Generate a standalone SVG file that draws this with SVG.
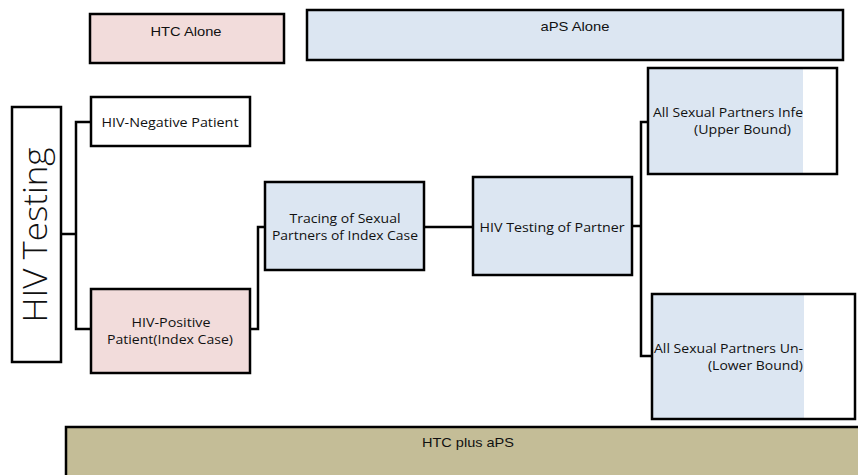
<svg xmlns="http://www.w3.org/2000/svg" width="858" height="475" viewBox="0 0 858 475">
<style>
.b{stroke:#000;stroke-width:2.5}
.pink{fill:#f2dcdb}
.blue{fill:#dce6f2}
.white{fill:#fff}
.tan{fill:#c4bd97}
.a{font-family:"Liberation Sans",Arial,sans-serif;font-size:13px;fill:#111}
.c{font-family:"Open Sans","Noto Sans",sans-serif;font-size:13px;fill:#111}
.m{text-anchor:middle}
.conn{fill:none;stroke:#000;stroke-width:2.5}
</style>
<rect width="858" height="475" fill="#fff"/>
<g id="htc-alone"><rect class="b pink" x="90" y="14" width="194" height="49"/><text class="a m" x="186" y="36" textLength="71" lengthAdjust="spacingAndGlyphs">HTC Alone</text></g>
<g id="aps-alone"><rect class="b blue" x="307" y="10" width="536" height="50"/><text class="a m" x="575" y="31" textLength="69" lengthAdjust="spacingAndGlyphs">aPS Alone</text></g>
<g id="hiv-testing"><rect class="b white" x="12" y="107" width="49" height="255"/><text transform="translate(47,235) rotate(-90)" style="font-family:'Open Sans','Noto Sans',sans-serif;font-weight:300;font-size:33px;fill:#111" text-anchor="middle" textLength="175" lengthAdjust="spacingAndGlyphs">HIV Testing</text></g>
<g id="hiv-negative"><rect class="b white" x="91" y="97" width="159" height="49"/><text class="c m" x="170" y="127" textLength="137" lengthAdjust="spacingAndGlyphs">HIV-Negative Patient</text></g>
<g id="hiv-positive"><rect class="b pink" x="91" y="289" width="159" height="84"/><text class="c m" x="171" y="327" textLength="79" lengthAdjust="spacingAndGlyphs">HIV-Positive</text><text class="c m" x="170" y="344" textLength="126" lengthAdjust="spacingAndGlyphs">Patient(Index Case)</text></g>
<g id="tracing"><rect class="b blue" x="265" y="182" width="159" height="88"/><text class="c m" x="345" y="223" textLength="111" lengthAdjust="spacingAndGlyphs">Tracing of Sexual</text><text class="c m" x="345" y="240" textLength="146" lengthAdjust="spacingAndGlyphs">Partners of Index Case</text></g>
<g id="testing-partner"><rect class="b blue" x="473" y="177" width="159" height="98"/><text class="c m" x="552" y="232" textLength="145" lengthAdjust="spacingAndGlyphs">HIV Testing of Partner</text></g>
<g id="upper"><rect class="white" x="648" y="68" width="189" height="106"/><rect class="blue" x="649" y="69" width="154" height="104"/><rect class="b" fill="none" x="648" y="68" width="189" height="106"/><text class="c" x="653" y="117" textLength="150" lengthAdjust="spacingAndGlyphs">All Sexual Partners Infe</text><text class="c" x="694" y="134" textLength="97" lengthAdjust="spacingAndGlyphs">(Upper Bound)</text></g>
<g id="lower"><rect class="white" x="652" y="294" width="203" height="125"/><rect class="blue" x="653" y="295" width="151" height="123"/><rect class="b" fill="none" x="652" y="294" width="203" height="125"/><text class="c" x="654" y="353" textLength="149" lengthAdjust="spacingAndGlyphs">All Sexual Partners Un-</text><text class="c" x="708" y="370" textLength="95" lengthAdjust="spacingAndGlyphs">(Lower Bound)</text></g>
<g id="htc-plus-aps"><rect class="b tan" x="66" y="427" width="800" height="60"/><text class="a m" x="468" y="447" textLength="92" lengthAdjust="spacingAndGlyphs">HTC plus aPS</text></g>
<g id="connectors">
<path class="conn" d="M61 234H76M91 122H76V329H91"/>
<path class="conn" d="M250 329H258V227H265"/>
<path class="conn" d="M424 227H473"/>
<path class="conn" d="M632 226H641M648 122H641V356H652"/>
</g>
</svg>
